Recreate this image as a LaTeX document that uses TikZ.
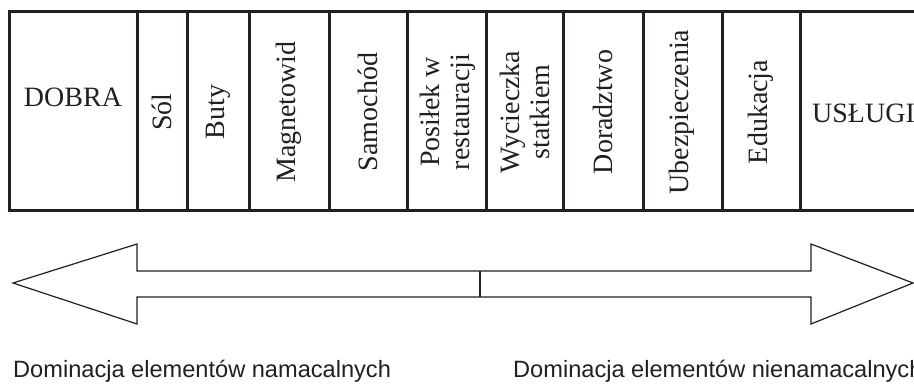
\documentclass[tikz,border=0pt]{standalone}
\usepackage{fontspec}
\setmainfont{Liberation Serif}
\newfontfamily\labelsans{Liberation Sans}
\definecolor{ink}{HTML}{231F20}
\begin{document}
\begin{tikzpicture}[x=1pt,y=-1pt,
  frame/.style={draw=ink,line width=3pt},
  celltext/.style={text=ink,font=\fontsize{28}{30}\selectfont,align=center,inner sep=0pt},
  vtext/.style={celltext,rotate=90},
  bigarrow/.style={draw=ink,line width=1.2pt,line join=miter},
  caption/.style={text=ink,font=\labelsans\fontsize{23.6}{26}\selectfont,inner sep=0pt,anchor=base west}]
\useasboundingbox (0,0) rectangle (914,385);
\clip (0,0) rectangle (914,385);
% frame of the table
\draw[frame] (930,12) -- (9,12) -- (9,211) -- (930,211);
\foreach \xx in {137,187,249,329,407,486,563,643,722,800}
  \draw[frame] (\xx,12) -- (\xx,211);
% cell labels
\node[celltext] (dobra) at (73,97) {DOBRA};
\node[vtext] (sol) at (162,112) {Sól};
\node[vtext] (buty) at (218,112) {Buty};
\node[vtext] (magn) at (289,112) {Magnetowid};
\node[vtext] (samo) at (368,112) {Samochód};
\node[vtext] (posi) at (448,112) {Posiłek w\\restauracji};
\node[vtext] (wyci) at (524.5,112) {Wycieczka\\statkiem};
\node[vtext] (dora) at (603,112) {Doradztwo};
\node[vtext] (ubez) at (682,112) {Ubezpieczenia};
\node[vtext] (eduk) at (761,112) {Edukacja};
\node[celltext,anchor=west] (uslugi) at (812,113) {USŁUGI};
% double arrow
\draw[bigarrow] (13,283) -- (137,244) -- (137,271) -- (811,271) -- (811,244)
  -- (913,283) -- (811,324) -- (811,297) -- (137,297) -- (137,324) -- cycle;
\coordinate (midtop) at (480,271);
\coordinate (midbot) at (480,297);
\draw[bigarrow] (midtop) -- (midbot);
% captions
\node[caption] (left) at (13,377) {Dominacja elementów namacalnych};
\node[caption] (right) at (513,377) {Dominacja elementów nienamacalnych};
\end{tikzpicture}
\end{document}
